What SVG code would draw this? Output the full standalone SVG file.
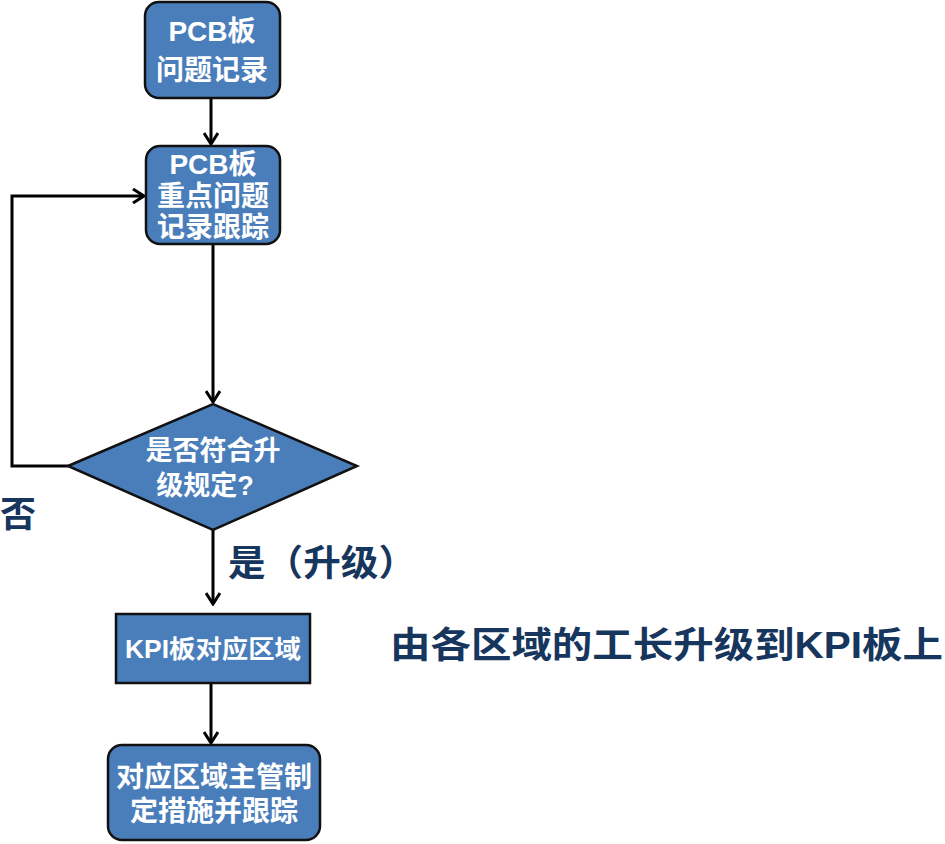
<svg xmlns="http://www.w3.org/2000/svg" width="945" height="844" viewBox="0 0 945 844">
<style>
.n{fill:#4a7ebb;stroke:#111;stroke-width:2.5}
.t{font-family:"Liberation Sans","Noto Sans CJK SC",sans-serif;font-weight:bold;fill:#fff;font-size:28px;text-anchor:middle}
.l{font-family:"Liberation Sans","Noto Sans CJK SC",sans-serif;font-weight:bold;fill:#17365d;font-size:36px}
.c{fill:none;stroke:#000;stroke-width:3}
</style>
<defs><marker id="a" viewBox="0 0 14 16" refX="12" refY="8" markerWidth="14" markerHeight="16" markerUnits="userSpaceOnUse" orient="auto"><path d="M1,1 L12,8 L1,15" fill="none" stroke="#000" stroke-width="3"/></marker></defs>
<rect width="945" height="844" fill="#fff"/>
<g id="connectors">
<path class="c" d="M211,98 V144" marker-end="url(#a)"/>
<path class="c" d="M213,244 V402" marker-end="url(#a)"/>
<path class="c" d="M68,466 H12 V196 H144" marker-end="url(#a)"/>
<path class="c" d="M213,530 V604" marker-end="url(#a)"/>
<path class="c" d="M211,683 V743" marker-end="url(#a)"/>
</g>
<g id="n1"><rect class="n" x="145" y="2" width="135" height="96" rx="14"/><text class="t" x="212" y="41">PCB板</text><text class="t" x="212" y="80">问题记录</text></g>
<g id="n2"><rect class="n" x="146" y="146" width="134" height="98" rx="14"/><text class="t" x="213" y="174">PCB板</text><text class="t" x="213" y="206">重点问题</text><text class="t" x="213" y="237">记录跟踪</text></g>
<g id="n3"><path class="n" d="M68,466 L213,404 L357,466 L213,530 Z"/><text class="t" x="213" y="460" style="font-size:27px">是否符合升</text><text class="t" x="205" y="495" style="font-size:27px">级规定?</text></g>
<g id="n4"><rect class="n" x="116" y="614" width="194" height="69"/><text class="t" x="213" y="658" style="font-size:25px" textLength="176" lengthAdjust="spacingAndGlyphs">KPI板对应区域</text></g>
<g id="n5"><rect class="n" x="108" y="745" width="212" height="95" rx="14"/><text class="t" x="214" y="787">对应区域主管制</text><text class="t" x="214" y="821">定措施并跟踪</text></g>
<text class="l" x="0" y="527">否</text>
<text class="l" x="228" y="576" textLength="188" lengthAdjust="spacingAndGlyphs">是（升级）</text>
<text class="l" x="390" y="658" textLength="553" lengthAdjust="spacingAndGlyphs">由各区域的工长升级到KPI板上</text>
</svg>
